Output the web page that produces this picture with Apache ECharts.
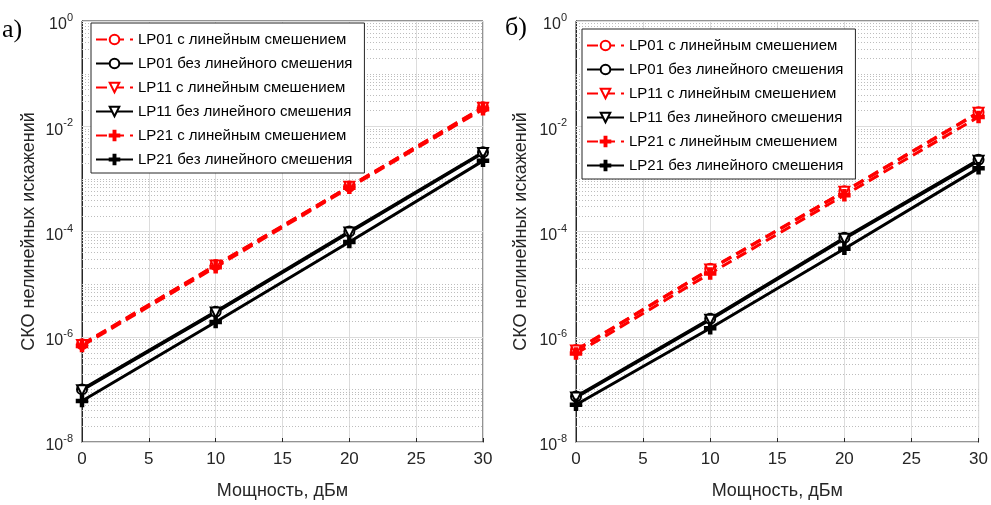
<!DOCTYPE html>
<html>
<head>
<meta charset="utf-8">
<script src="https://cdn.jsdelivr.net/npm/echarts@6/dist/echarts.min.js"></script>
<style>
  html, body { margin: 0; padding: 0; background: #fff; }
  #main { width: 991px; height: 505px; }
</style>
</head>
<body>
<div id="main"></div>
<script>
// мощность, дБм
const powerDbm = [0, 10, 20, 30];

// панель а)
const aLP01lin   = [7.2e-7, 2.3e-5, 7.2e-4, 2.3e-2];
const aLP01nolin = [1.0e-7, 3.0e-6, 1.0e-4, 3.2e-3];
const aLP11lin   = [7.0e-7, 2.25e-5, 7.1e-4, 2.25e-2];
const aLP11nolin = [9.6e-8, 2.9e-6, 9.6e-5, 3.1e-3];
const aLP21lin   = [6.7e-7, 2.1e-5, 6.8e-4, 2.1e-2];
const aLP21nolin = [6.0e-8, 1.9e-6, 6.3e-5, 2.2e-3];

// панель б)
const bLP01lin   = [5.6e-7, 1.95e-5, 5.8e-4, 1.85e-2];
const bLP01nolin = [7.3e-8, 2.2e-6, 7.6e-5, 2.3e-3];
const bLP11lin   = [5.5e-7, 1.9e-5, 5.7e-4, 1.8e-2];
const bLP11nolin = [7.0e-8, 2.1e-6, 7.3e-5, 2.2e-3];
const bLP21lin   = [4.8e-7, 1.6e-5, 4.9e-4, 1.5e-2];
const bLP21nolin = [5.1e-8, 1.45e-6, 4.7e-5, 1.6e-3];

const names = [
    'LP01 с линейным смешением',
    'LP01 без линейного смешения',
    'LP11 с линейным смешением',
    'LP11 без линейного смешения',
    'LP21 с линейным смешением',
    'LP21 без линейного смешения'
];
const yDecades = [-8, -7, -6, -5, -4, -3, -2, -1, 0];

let font = 'Liberation Sans';
let txt = '#262626';
let plus = 'path://M4,0H6V4H10V6H6V10H4V6H0V4H4Z';

// стили линий по порядку легенды
let styles = [
    { color: '#ff0000', dash: [11, 6], symbol: 'emptyCircle', rot: 0 },
    { color: '#000000', dash: 'solid', symbol: 'emptyCircle', rot: 0 },
    { color: '#ff0000', dash: [11, 6], symbol: 'emptyTriangle', rot: 180 },
    { color: '#000000', dash: 'solid', symbol: 'emptyTriangle', rot: 180 },
    { color: '#ff0000', dash: [11, 6], symbol: plus, rot: 0 },
    { color: '#000000', dash: 'solid', symbol: plus, rot: 0 }
];

// значения для горизонтальной сетки (major - через 2 декады)
function gridValues() {
    let out = [];
    yDecades.forEach(function (e) {
        out.push([Math.pow(10, e), e % 2 === 0 ? 1 : 0]);
        if (e < 0) {
            for (let k = 2; k <= 9; k++) out.push([k * Math.pow(10, e), 0]);
        }
    });
    return out;
}

function makeSeries(idx, sets) {
    let res = [{
        name: 'grid' + idx,
        type: 'custom',
        xAxisIndex: idx,
        yAxisIndex: idx,
        silent: true,
        z: 1,
        encode: { x: -1, y: 0 },
        data: gridValues(),
        renderItem: function (params, api) {
            let v = api.value(0);
            let major = api.value(1) === 1;
            let p1 = api.coord([0, v]);
            let p2 = api.coord([30, v]);
            return {
                type: 'line',
                shape: { x1: p1[0], y1: Math.round(p1[1]) + 0.5, x2: p2[0], y2: Math.round(p1[1]) + 0.5 },
                style: major
                    ? { stroke: '#dcdcdc', lineWidth: 1 }
                    : { stroke: '#bdbdbd', lineWidth: 1, lineDash: [1, 2] }
            };
        }
    }];
    sets.forEach(function (vals, i) {
        let st = styles[i];
        res.push({
            name: names[i],
            type: 'line',
            xAxisIndex: idx,
            yAxisIndex: idx,
            z: 3,
            data: powerDbm.map((x, j) => [x, vals[j]]),
            symbol: st.symbol,
            symbolRotate: st.rot,
            symbolSize: 10,
            showAllSymbol: true,
            lineStyle: { color: st.color, width: 3, type: st.dash },
            itemStyle: { color: st.color, borderColor: st.color, borderWidth: 2.5 }
        });
    });
    return res;
}

function makeX(idx) {
    return {
        type: 'value', gridIndex: idx, min: 0, max: 30, interval: 5,
        name: 'Мощность, дБм', nameLocation: 'middle', nameGap: 40,
        nameTextStyle: { fontFamily: font, fontSize: 18, color: txt },
        axisLine: { show: true, lineStyle: { color: txt, width: 1 } },
        axisTick: { show: true, inside: true, length: 4, lineStyle: { color: txt } },
        axisLabel: { fontFamily: font, fontSize: 17, color: txt, margin: 9 },
        splitLine: { show: true, lineStyle: { color: '#dcdcdc', width: 1 } }
    };
}

function makeY(idx, gap) {
    return {
        type: 'log', logBase: 10, gridIndex: idx, min: 1e-8, max: 1, splitNumber: 8,
        name: 'СКО нелинейных искажений', nameLocation: 'middle', nameGap: gap,
        nameTextStyle: { fontFamily: font, fontSize: 18, color: txt },
        axisLine: { show: true, lineStyle: { color: txt, width: 1 } },
        axisTick: { show: false },
        splitLine: { show: false },
        axisLabel: {
            margin: 9,
            formatter: function (v) {
                let e = Math.round(Math.log10(v));
                if (e % 2 !== 0) return '';
                return '{b|10}{e|' + e + '}';
            },
            rich: {
                b: { fontFamily: font, fontSize: 16, color: txt, padding: [8, 0, 0, 0] },
                e: { fontFamily: font, fontSize: 11, color: txt, padding: [0, 0, 6, 0] }
            }
        }
    };
}

function makeLegend(left, top) {
    return {
        data: names,
        orient: 'vertical',
        left: left,
        top: top,
        itemWidth: 37,
        itemHeight: 12,
        itemGap: 9,
        padding: [9, 12, 6, 4],
        backgroundColor: '#fff',
        borderColor: txt,
        borderWidth: 1,
        borderRadius: 0,
        textStyle: { fontFamily: font, fontSize: 15, color: '#000', lineHeight: 15 }
    };
}

let myChart = echarts.init(document.getElementById('main'));
let option = {
    animation: false,
    backgroundColor: '#fff',
    grid: [
        { left: 82, right: 508, top: 21, bottom: 58, show: true, borderColor: txt, borderWidth: 1, backgroundColor: 'transparent' },
        { left: 576, right: 11, top: 21, bottom: 58, show: true, borderColor: txt, borderWidth: 1, backgroundColor: 'transparent' }
    ],
    xAxis: [makeX(0), makeX(1)],
    yAxis: [makeY(0, 44), makeY(1, 46)],
    legend: [makeLegend(91, 23), makeLegend(582, 29)],
    graphic: [
        { type: 'text', left: 2, top: 17, style: { text: 'а)', fontFamily: 'Liberation Serif', fontSize: 26, fill: '#000' } },
        { type: 'text', left: 505, top: 15, style: { text: 'б)', fontFamily: 'Liberation Serif', fontSize: 26, fill: '#000' } }
    ],
    series: makeSeries(0, [aLP01lin, aLP01nolin, aLP11lin, aLP11nolin, aLP21lin, aLP21nolin])
        .concat(makeSeries(1, [bLP01lin, bLP01nolin, bLP11lin, bLP11nolin, bLP21lin, bLP21nolin]))
};
myChart.setOption(option);
</script>
</body>
</html>
